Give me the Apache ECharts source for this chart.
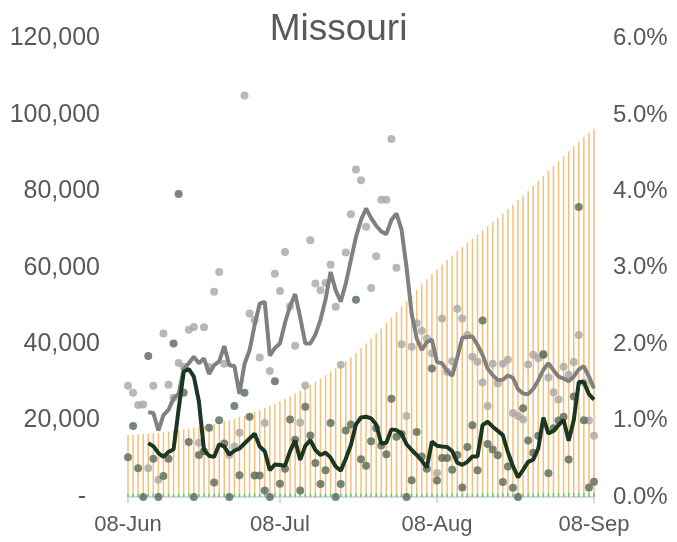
<!DOCTYPE html>
<html><head><meta charset="utf-8">
<script src="https://cdn.jsdelivr.net/npm/echarts@6/dist/echarts.min.js"></script>
<style>html,body{margin:0;padding:0;background:#fff}#c{width:677px;height:542px}</style>
</head><body><div id="c"></div>
<script>
// Categories: daily dates 08-Jun .. 08-Sep
const categories = (function () {
  const out = [];
  const months = [['Jun', 8, 30], ['Jul', 1, 31], ['Aug', 1, 31], ['Sep', 1, 8]];
  for (const [m, a, b] of months) for (let d = a; d <= b; d++) out.push(String(d).padStart(2, '0') + '-' + m);
  return out;
})();
const tickLabels = ['08-Jun', '08-Jul', '08-Aug', '08-Sep'];

// values in thousands (left axis)
const cumulativeBars = [16.2,16.3,16.4,16.5,16.6,16.7,16.8,17.0,17.1,17.3,
 17.5,17.7,17.9,18.1,18.3,18.6,18.9,19.2,19.5,19.8,
 20.1,20.5,20.9,21.3,21.8,22.3,22.8,23.3,23.8,24.4,
 25.0,25.7,26.4,27.1,27.8,28.6,29.4,30.2,31.0,31.9,
 32.8,33.7,34.6,35.6,36.6,37.7,38.9,40.2,41.5,42.8,
 44.1,45.5,46.9,48.3,49.8,51.3,52.8,54.2,55.6,57.0,
 58.3,59.6,60.8,62.0,63.2,64.3,65.4,66.5,67.6,68.7,
 69.8,70.9,72.0,73.1,74.2,75.3,76.5,77.7,78.9,80.1,
 81.4,82.7,84.0,85.3,86.6,87.9,89.2,90.5,91.8,93.0,
 94.2,95.3,96.3];
const smallBars = [0.8,0.9,0.8,0.9,0.8,0.9,0.9,0.8,0.9,0.8,
 0.9,0.8,0.9,0.9,0.8,0.9,0.8,0.9,0.8,0.9,
 0.9,0.8,0.9,0.8,0.9,0.9,0.8,0.9,0.8,0.9,
 0.9,0.8,0.9,0.8,0.9,0.9,0.8,0.9,0.8,0.9,
 0.9,0.8,0.9,0.8,0.9,0.9,0.8,0.9,0.8,0.9,
 0.9,0.8,0.9,0.8,0.9,0.9,0.8,0.9,0.8,0.9,
 0.9,0.8,0.9,0.8,0.9,0.9,0.8,0.9,0.8,0.9,
 1.0,0.9,1.0,0.9,1.0,1.0,0.9,1.0,0.9,1.0,
 1.0,0.9,1.0,1.0,1.1,1.0,1.0,1.1,1.0,1.1,
 1.1,1.0,1.1];
const greyDots = [29.1,27.3,24.1,24.2,7.5,29.1,4.5,42.8,29.4,26,
 35.1,34.1,43.8,44.5,14.2,44.4,34,53.7,58.9,34.9,
 11,13.2,16.8,105.1,48,46.3,36.5,19.4,33,58.4,
 53.9,64.1,49.9,39.6,19.5,29.2,67.2,55.9,54.1,56,
 60.8,49.8,34.6,64,74,85.7,82.9,70.7,54.7,63,
 77.8,77.8,93.7,60,40,21.2,39.3,45.5,43.5,41.5,
 37.6,6.3,46.7,32.8,35.5,49.3,46.7,42.4,36.7,35.4,
 30,23.8,34.9,29.7,34.9,35.9,22,21.2,20.3,34.7,
 37.2,36.3,37.5,31.3,27.4,25.5,34.1,32,35.3,42.4,
 30,20,16];
const darkDots = [10.4,18.6,7.5,0,36.9,10,0,5.5,10,40.2,
 79.3,27.3,14.4,0,11,12,18.1,3.8,20.1,14,
 0,23.8,5.7,27.3,21,5.6,5.6,1.7,0,30.3,
 3.5,7.4,20.3,15,1.7,23.6,16.1,8.9,3.4,7,
 19.4,0,3.4,17.4,19,51.6,9.9,8.2,14.6,18,
 13.5,11.2,25.7,15.8,16.5,0,4.4,17,10.6,7.4,
 33.6,4.3,10.2,10.2,7.1,11,2.5,13.1,18.8,7,
 46.2,13.9,12.4,10.9,3.9,8,2.4,0,23.2,14.8,
 11.6,16,37.2,6.2,18,20,21,9.8,26.3,75.9,
 20.1,2.5,4];
const greyLine = [null,null,null,null,22.2,22.0,17.4,21.4,22.8,25.8,
 27.0,33.5,35.0,36.7,35.0,36.3,32.2,34.5,35.5,39.5,
 34.5,34.3,27.0,34.8,38.4,45.0,50.6,51.1,37.0,39.0,
 40.2,45.6,50.0,53.1,47.0,40.2,40.2,42.5,46.3,51.7,
 58.9,54.1,51.1,55.9,62.0,68.0,72.5,75.5,73.0,71.0,
 69.5,68.8,72.5,74.2,70.0,60.0,48.0,41.5,38.5,40.5,
 41.2,35.3,35.0,33.0,31.7,36.5,41.7,41.9,42.0,39.8,
 37.2,33.6,31.9,30.6,30.7,31.8,31.2,28.2,27.1,26.9,
 28.3,30.5,33.3,35.0,33.2,31.5,31.0,30.3,31.5,33.4,
 34.2,31.5,28.4];
const darkLine = [null,null,null,null,14.1,13.3,11.5,10.5,11.8,12.5,
 23,32.8,33.5,31.5,25,12.3,10.8,10.5,13.8,13.2,
 11.1,12.1,12.7,14,15.3,16.6,13.2,12,7,8.5,
 8.4,8.2,12,14.8,9.7,13.4,14.9,12.3,11,11.6,
 10.3,8,6.9,10,13.6,19,20.8,21,20.6,19,
 14,14.2,17.7,17.5,16.6,13.8,12.3,11,9.5,7.7,
 14.5,13.4,13.2,13.1,12,9,8.4,9.2,10.6,10.6,
 18.8,19.7,18.4,17.3,16.2,11.7,8.1,5.1,7.1,9.2,
 9.8,12.7,20.8,16.6,17.3,18.8,20.2,14.7,20.1,30.1,
 30.1,26.9,25.5];

const FONT = '"Liberation Sans", Arial, sans-serif';
const TXT = '#595959';
const chart = echarts.init(document.getElementById('c'), null, { renderer: 'canvas' });
const isTick = (i, v) => tickLabels.indexOf(v) >= 0;
chart.setOption({
  animation: false,
  backgroundColor: '#ffffff',
  title: { text: 'Missouri', left: 'center', top: 6,
    textStyle: { fontFamily: FONT, fontSize: 37, fontWeight: 'normal', color: TXT } },
  grid: { left: 128, right: 83, top: 38.5, bottom: 45, containLabel: false },
  xAxis: { type: 'category', data: categories, boundaryGap: false,
    axisLine: { lineStyle: { color: '#d9d9d9', width: 2 } },
    axisTick: { show: true, length: 6, interval: isTick, lineStyle: { color: '#d9d9d9', width: 2 } },
    axisLabel: { interval: isTick, color: TXT, fontSize: 22, fontFamily: FONT, margin: 17 },
    splitLine: { show: false } },
  yAxis: [
    { type: 'value', min: 0, max: 120, interval: 20,
      axisLine: { show: false }, axisTick: { show: false }, splitLine: { show: false },
      axisLabel: { margin: 28, color: TXT, fontSize: 25, fontFamily: FONT,
        formatter: v => v === 0 ? '-  ' : (v * 1000).toLocaleString('en-US') } },
    { type: 'value', min: 0, max: 6, interval: 1, position: 'right',
      axisLine: { show: false }, axisTick: { show: false }, splitLine: { show: false },
      axisLabel: { margin: 19, color: TXT, fontSize: 24, fontFamily: FONT,
        formatter: v => v.toFixed(1) + '%' } }
  ],
  series: [
    { type: 'bar', data: cumulativeBars, barWidth: 1.5, itemStyle: { color: '#f3c07a' }, z: 1 },
    { type: 'bar', data: smallBars, barWidth: 1.5, barGap: '-100%', itemStyle: { color: '#4fd27a' }, z: 2 },
    { type: 'scatter', data: greyDots, symbolSize: 8, itemStyle: { color: '#a6a6a6' }, z: 3 },
    { type: 'scatter', data: darkDots, symbolSize: 8, itemStyle: { color: '#56695a' }, z: 3 },
    { type: 'line', data: greyLine, showSymbol: false, lineStyle: { color: '#808080', width: 4 }, z: 4 },
    { type: 'line', data: darkLine, showSymbol: false, lineStyle: { color: '#1b3622', width: 4 }, z: 5 }
  ]
});
</script>
</body></html>
